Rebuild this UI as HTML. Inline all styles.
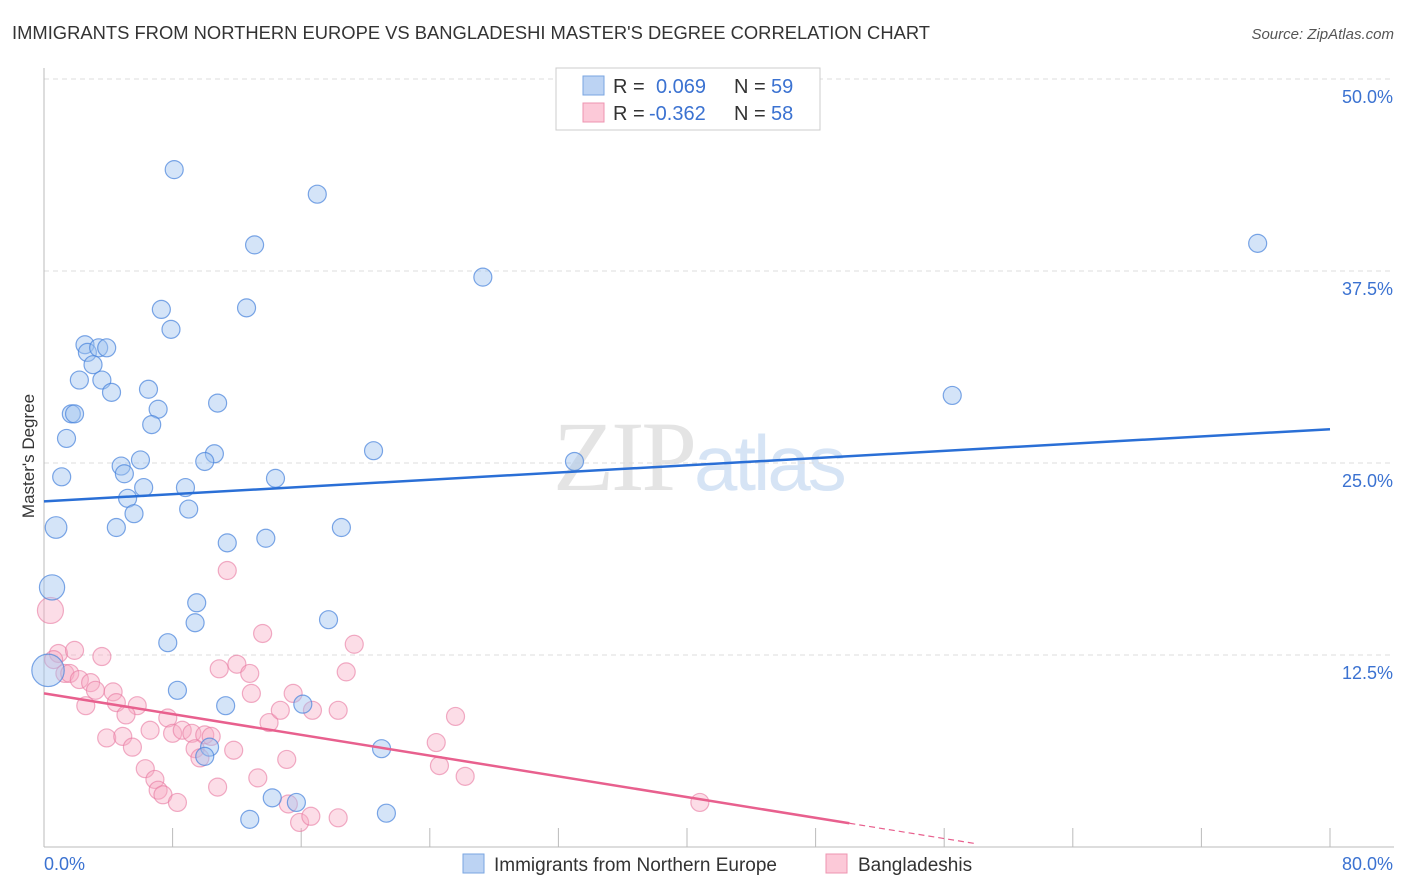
<!DOCTYPE html>
<html><head><meta charset="utf-8"><style>
body{margin:0;background:#fff;font-family:"Liberation Sans",sans-serif;}
svg{display:block}
</style></head><body>
<svg id="chart" width="1406" height="892" viewBox="0 0 1406 892" xmlns="http://www.w3.org/2000/svg">
<text x="12" y="39" font-size="18" fill="#333" textLength="918" lengthAdjust="spacingAndGlyphs">IMMIGRANTS FROM NORTHERN EUROPE VS BANGLADESHI MASTER'S DEGREE CORRELATION CHART</text>
<text x="1394" y="39" font-size="15" fill="#555" text-anchor="end" font-style="italic">Source: ZipAtlas.com</text>
<text x="553" y="490" font-size="100" fill="#e4e4e4" font-family="Liberation Serif" letter-spacing="-3">ZIP<tspan fill="#d6e4f5" font-family="Liberation Sans" font-size="78">atlas</tspan></text>
<g id="grid"></g><g id="axes"></g><g id="marks"></g>
<text transform="translate(34,456) rotate(-90)" font-size="17" fill="#333" text-anchor="middle">Master's Degree</text>
<g font-size="20">
<rect x="556" y="68" width="264" height="62" fill="#fff" stroke="#ccc"/>
<rect x="583" y="76" width="21" height="19" fill="#bcd3f3" stroke="#7aa6e2"/>
<rect x="583" y="103" width="21" height="19" fill="#fcc9d8" stroke="#ee94b0"/>
<text x="613" y="93" fill="#333">R =</text>
<text x="656" y="93" fill="#3b72d1">0.069</text>
<text x="734" y="93" fill="#333">N =</text>
<text x="771" y="93" fill="#3b72d1">59</text>
<text x="613" y="120" fill="#333">R =</text>
<text x="649" y="120" fill="#3b72d1">-0.362</text>
<text x="734" y="120" fill="#333">N =</text>
<text x="771" y="120" fill="#3b72d1">58</text>
</g>
<g>
<rect x="463" y="854" width="21" height="19" fill="#bcd3f3" stroke="#7aa6e2"/>
<text x="494" y="871" font-size="19" fill="#333">Immigrants from Northern Europe</text>
<rect x="826" y="854" width="21" height="19" fill="#fcc9d8" stroke="#ee94b0"/>
<text x="858" y="871" font-size="19" fill="#333">Bangladeshis</text>
</g>
</svg>
<script>
const yTicks=[12.5,25,37.5,50];
const yTickLabels=["12.5%","25.0%","37.5%","50.0%"];
const xTicks=[0,8,16,24,32,40,48,56,64,72,80];
const blueX=[8.1,17.0,13.1,75.5,27.3,7.3,12.6,7.9,2.55,2.7,3.4,3.9,3.05,2.2,3.6,4.2,6.5,56.5,1.7,1.9,7.1,10.8,6.7,1.4,10.6,20.5,10.0,6.0,4.8,5.0,33.0,1.1,14.4,6.2,8.8,5.2,9.0,5.6,0.75,4.5,18.5,13.8,11.4,0.5,9.5,9.4,17.7,7.7,0.25,8.3,11.3,16.1,10.3,10.0,21.0,14.2,15.7,12.8,21.3];
const blueY=[44.1,42.5,39.2,39.3,37.1,35.0,35.1,33.7,32.7,32.2,32.5,32.5,31.4,30.4,30.4,29.6,29.8,29.4,28.2,28.2,28.5,28.9,27.5,26.6,25.6,25.8,25.1,25.2,24.8,24.3,25.1,24.1,24.0,23.4,23.4,22.7,22.0,21.7,20.8,20.8,20.8,20.1,19.8,16.9,15.9,14.6,14.8,13.3,11.5,10.2,9.2,9.3,6.5,5.9,6.4,3.2,2.9,1.8,2.2];
const blueSize=[1,1,1,1,1,1,1,1,1,1,1,1,1,1,1,1,1,1,1,1,1,1,1,1,1,1,1,1,1,1,1,1,1,1,1,1,1,1,1.2,1,1,1,1,1.4,1,1,1,1,1.8,1,1,1,1,1,1,1,1,1,1];
const pinkX=[0.9,1.9,3.6,1.3,1.6,2.2,2.9,3.2,4.3,4.5,2.6,5.8,5.1,7.7,3.9,4.9,5.5,6.6,8.0,8.6,9.2,10.0,10.4,9.4,9.7,11.8,6.3,6.9,7.1,7.4,8.3,10.8,13.3,15.1,14.0,14.7,15.5,16.7,18.3,12.9,10.9,12.0,12.8,13.6,18.8,19.3,11.4,15.2,15.9,16.6,18.3,24.4,25.6,24.6,26.2,0.4,0.6,40.8];
const pinkY=[12.6,12.8,12.4,11.3,11.3,10.9,10.7,10.2,10.1,9.4,9.2,9.2,8.6,8.4,7.1,7.2,6.5,7.6,7.4,7.6,7.4,7.3,7.2,6.4,5.8,6.3,5.1,4.4,3.7,3.4,2.9,3.9,4.5,5.7,8.1,8.9,10.0,8.9,8.9,10.0,11.6,11.9,11.3,13.9,11.4,13.2,18.0,2.8,1.6,2.0,1.9,6.8,8.5,5.3,4.6,15.4,12.2,2.9];
const blueTrend=[22.5,27.2];
const pinkTrend=[10.0,-3.5];
const pinkSolidEnd=50.1, pinkDashEnd=58;
const X=v=>44+v/80*1286, Y=v=>847-v*15.36;
const NS="http://www.w3.org/2000/svg";
function mk(tag,attrs,parent){const e=document.createElementNS(NS,tag);for(const k in attrs)e.setAttribute(k,attrs[k]);parent.appendChild(e);return e;}
const grid=document.getElementById('grid'),axes=document.getElementById('axes'),marks=document.getElementById('marks');
yTicks.forEach((t,i)=>{
 const l=mk('line',{x1:44,x2:1394,y1:Y(t),y2:Y(t),stroke:'#ddd','stroke-dasharray':'5,4'},grid);
 
 
 const tx=mk('text',{x:1393,y:Y(t)+24,'font-size':18,fill:'#3b72d1','text-anchor':'end'},axes);
 tx.textContent=yTickLabels[i];
 
 
});
const ax=mk('line',{x1:44,x2:44,y1:68,y2:847,stroke:'#bbb'},axes);


const bx=mk('line',{x1:44,x2:1394,y1:847,y2:847,stroke:'#bbb'},axes);


xTicks.forEach(t=>{if(t===0)return;
 const l=mk('line',{x1:X(t),x2:X(t),y1:828,y2:847,stroke:'#bbb'},axes);
 
 
});
const xl0=mk('text',{x:44,y:870,'font-size':18,fill:'#3b72d1'},axes);xl0.textContent='0.0%';


const xl1=mk('text',{x:1393,y:870,'font-size':18,fill:'#3b72d1','text-anchor':'end'},axes);xl1.textContent='80.0%';


pinkX.forEach((v,i)=>{
 const c=mk('circle',{cx:X(v),cy:Y(pinkY[i]),r:i===55?13:9,fill:'rgba(248,170,196,0.4)',stroke:'rgba(232,120,160,0.6)','stroke-width':1.2},marks);
 
 
});
blueX.forEach((v,i)=>{
 const c=mk('circle',{cx:X(v),cy:Y(blueY[i]),r:9*blueSize[i],fill:'rgba(160,195,240,0.45)',stroke:'rgba(70,130,220,0.7)','stroke-width':1.2},marks);
 
 
});
const bt=mk('line',{x1:X(0),y1:Y(blueTrend[0]),x2:X(80),y2:Y(blueTrend[1]),stroke:'#2a6fd6','stroke-width':2.5},marks);


const pv=x=>pinkTrend[0]+(pinkTrend[1]-pinkTrend[0])*x/80;
const pt=mk('line',{x1:X(0),y1:Y(pv(0)),x2:X(pinkSolidEnd),y2:Y(pv(pinkSolidEnd)),stroke:'#e8608e','stroke-width':2.5},marks);


const pd=mk('line',{x1:X(pinkSolidEnd),y1:Y(pv(pinkSolidEnd)),x2:X(pinkDashEnd),y2:Y(pv(pinkDashEnd)),stroke:'#e8608e','stroke-width':1.2,'stroke-dasharray':'6,4'},marks);


</script>
</body></html>
